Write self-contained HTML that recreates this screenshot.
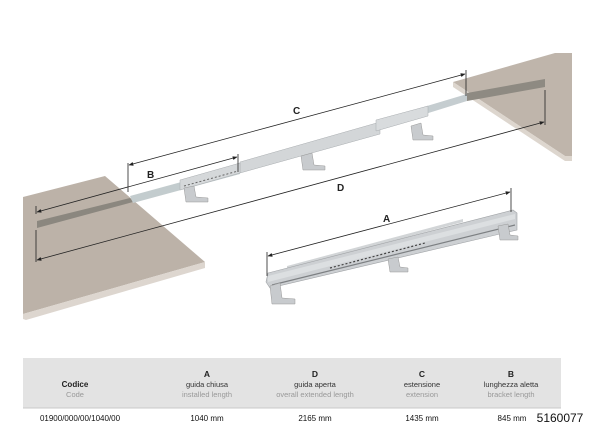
<!DOCTYPE html>
<html><head><meta charset="utf-8"><style>
html,body{margin:0;padding:0;background:#fff;}
body{width:600px;height:426px;overflow:hidden;position:relative;font-family:"Liberation Sans",Arial,sans-serif;}
svg{position:absolute;left:0;top:0;}
.t{font-family:"Liberation Sans",Arial,sans-serif;}
</style></head><body>
<svg width="600" height="426" viewBox="0 0 600 426">
<defs>
<marker id="ar" viewBox="0 0 10 10" refX="9" refY="5" markerWidth="6" markerHeight="6" orient="auto-start-reverse"><path d="M0,1 L10,5 L0,9 z" fill="#222"/></marker>
</defs>
<!-- left board -->
<polygon points="23,197 105,176 205,262 23,314" fill="#bcb2a8"/>
<polygon points="23,314 205,262 205,268 26,320 23,319" fill="#ddd6cf"/>
<!-- right board -->
<polygon points="453,82 555,53 572,53 572,156 565,156" fill="#bfb5ab"/>
<polygon points="453,82 565,156 572,156 572,161 565,161 453,87" fill="#ddd6ce"/>
<!-- main extended rail -->
<polygon points="37,221 130,198 133,202 37,228" fill="#8b877f"/>
<polygon points="130,196 240,166 240,174 133,203" fill="#c3ccce"/>
<polygon points="240,162 380,122 380,134 240,173" fill="#d3d6d8" stroke="#a9adb0" stroke-width="0.5"/>
<polygon points="380,120 467,94 467,101 380,128" fill="#c5cdd0"/>
<polygon points="467,93 545,79 545,87 467,101" fill="#8e8a82"/>
<polygon points="180,180 240,163 240,173 180,190" fill="#d5d8da" stroke="#a9adb0" stroke-width="0.5"/>
<line x1="184" y1="186" x2="238" y2="171" stroke="#666" stroke-width="1" stroke-dasharray="2,2"/>
<polygon points="376,120 428,106 428,116 376,131" fill="#d8dbdd" stroke="#a9adb0" stroke-width="0.5"/>
<!-- brackets upper -->
<polygon points="184,188 194,186 196,197 208,198 208,202 186,202" fill="#c8cbce" stroke="#999" stroke-width="0.5"/>
<polygon points="301,156 312,153 314,165 325,166 325,170 303,170" fill="#c8cbce" stroke="#999" stroke-width="0.5"/>
<polygon points="411,126 421,123 423,135 433,136 433,140 413,140" fill="#c8cbce" stroke="#999" stroke-width="0.5"/>
<!-- closed rail A -->
<polygon points="287,266 463,219 463,222 287,269" fill="#d2d5d7"/>
<polygon points="268,273 513,210 517,213 517,230 270,288 266,282" fill="#cdd0d3" stroke="#a0a3a6" stroke-width="0.6"/>
<polygon points="268,276 515,214 515,219 268,282" fill="#dcdfe1"/>
<line x1="272" y1="285" x2="515" y2="225" stroke="#7d8083" stroke-width="1.2"/>
<line x1="330" y1="268" x2="425" y2="243" stroke="#444" stroke-width="1.2" stroke-dasharray="2,2"/>
<polygon points="270,286 280,283 282,298 295,299 295,304 272,304" fill="#c8cbce" stroke="#999" stroke-width="0.5"/>
<polygon points="388,259 398,257 400,267 408,268 408,272 390,272" fill="#c8cbce" stroke="#999" stroke-width="0.5"/>
<polygon points="498,226 508,224 510,235 518,236 518,240 500,240" fill="#c8cbce" stroke="#999" stroke-width="0.5"/>
<!-- dimension lines -->
<g stroke="#222" stroke-width="0.8" fill="none">
<line x1="128" y1="163" x2="128" y2="192"/>
<line x1="466" y1="70" x2="466" y2="96"/>
<line x1="129" y1="165" x2="465" y2="74" marker-start="url(#ar)" marker-end="url(#ar)"/>
<line x1="238" y1="154" x2="238" y2="172"/>
<line x1="37" y1="212" x2="237" y2="157" marker-start="url(#ar)" marker-end="url(#ar)"/>
<line x1="36" y1="206" x2="36" y2="214"/>
<line x1="36" y1="230" x2="36" y2="262"/>
<line x1="545" y1="90" x2="545" y2="125"/>
<line x1="37" y1="260" x2="544" y2="122" marker-start="url(#ar)" marker-end="url(#ar)"/>
<line x1="267" y1="252" x2="267" y2="276"/>
<line x1="511" y1="188" x2="511" y2="212"/>
<line x1="268" y1="256" x2="510" y2="192" marker-start="url(#ar)" marker-end="url(#ar)"/>
</g>
<g class="t" font-size="10" fill="#222" font-weight="bold">
<text x="293" y="114">C</text>
<text x="147" y="178">B</text>
<text x="337" y="191">D</text>
<text x="383" y="222">A</text>
</g>
<!-- table -->
<rect x="23" y="358" width="538" height="50" fill="#e3e3e3"/>
<line x1="23" y1="408" x2="561" y2="408" stroke="#c8c8c8" stroke-width="1"/>
<g class="t" text-anchor="middle" font-size="7.5">
<text x="75" y="387" font-weight="bold" font-size="8" fill="#222">Codice</text>
<text x="75" y="397" fill="#999">Code</text>
<text x="207" y="377" font-weight="bold" font-size="8.5" fill="#222">A</text>
<text x="207" y="387" fill="#333">guida chiusa</text>
<text x="207" y="397" fill="#999">installed length</text>
<text x="315" y="377" font-weight="bold" font-size="8.5" fill="#222">D</text>
<text x="315" y="387" fill="#333">guida aperta</text>
<text x="315" y="397" fill="#999">overall extended length</text>
<text x="422" y="377" font-weight="bold" font-size="8.5" fill="#222">C</text>
<text x="422" y="387" fill="#333">estensione</text>
<text x="422" y="397" fill="#999">extension</text>
<text x="511" y="377" font-weight="bold" font-size="8.5" fill="#222">B</text>
<text x="511" y="387" fill="#333">lunghezza aletta</text>
<text x="511" y="397" fill="#999">bracket length</text>
<g font-size="8" fill="#111">
<text x="80" y="421">01900/000/00/1040/00</text>
<text x="207" y="421">1040 mm</text>
<text x="315" y="421">2165 mm</text>
<text x="422" y="421">1435 mm</text>
<text x="512" y="421">845 mm</text>
</g>
<text x="560" y="422" font-size="12" fill="#111">5160077</text>
</g>
</svg>
</body></html>
